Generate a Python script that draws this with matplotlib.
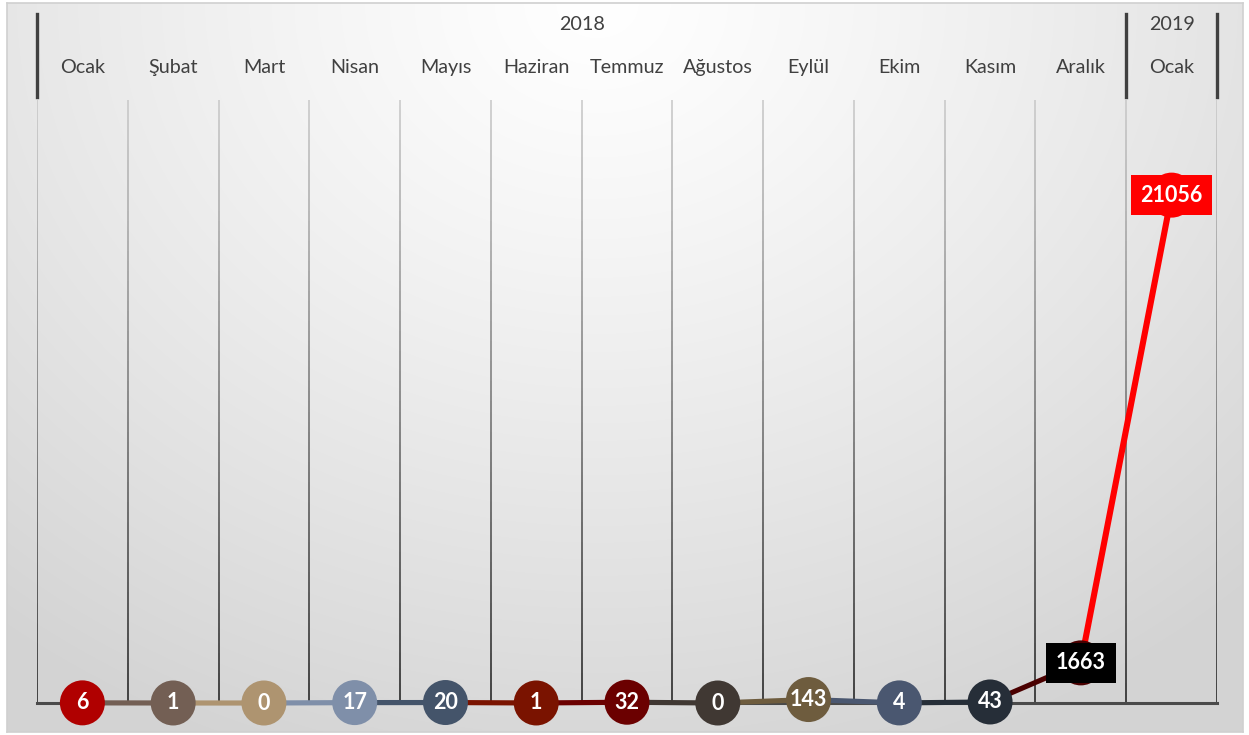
import numpy as np
import matplotlib.pyplot as plt
from matplotlib.collections import LineCollection

plt.rcParams['font.family'] = ['Lato', 'DejaVu Sans']

# data
months = ['Ocak', 'Şubat', 'Mart', 'Nisan', 'Mayıs', 'Haziran', 'Temmuz',
          'Ağustos', 'Eylül', 'Ekim', 'Kasım', 'Aralık', 'Ocak']
years = ['2018', '2019']
year_span = [12, 1]
values = [6, 1, 0, 17, 20, 1, 32, 0, 143, 4, 43, 1663, 21056]
colors = ['#B00000', '#735F54', '#AE9470', '#7F8FA9', '#44546A', '#7A1300',
          '#6B0000', '#403833', '#6E5C3E', '#4A5770', '#262E38', '#4A0000',
          '#FF0000']

W, H = 1249, 735
fig = plt.figure(figsize=(W / 100, H / 100), dpi=100)

# background with radial gradient
bg = fig.add_axes([7 / W, 3 / H, 1236 / W, 729 / H])
px, py = np.meshgrid(np.arange(1236), np.arange(729))
d = np.sqrt(((px - 590) / 950.0) ** 2 + (py / 800.0) ** 2)
g = 1 - 0.17 * np.clip(d, 0, 1) ** 1.2
bg.imshow(np.dstack([g, g, g]), aspect='auto', extent=[0, 1, 0, 1], origin='upper')
bg.set_xticks([])
bg.set_yticks([])
for s in bg.spines.values():
    s.set_color('#d0d0d0')
    s.set_linewidth(1.2)

ax = fig.add_axes([37 / W, 32 / H, 1180 / W, 603 / H])
ax.set_xlim(-0.5, 12.5)
ax.set_ylim(0, 25000)
ax.axis('off')

x = np.arange(len(values))

# vertical grid lines, light at top, dark at bottom
n = 60
ys = np.linspace(0, 25000, n + 1)
for xb in np.arange(-0.5, len(values)):
    segs = [[(xb, ys[k]), (xb, ys[k + 1])] for k in range(n)]
    t = np.linspace(0, 1, n)
    cols = [(0.1 + 0.68 * tt,) * 3 for tt in t]
    ax.add_collection(LineCollection(segs, colors=cols, linewidths=1.1, zorder=1))

ax.plot([-0.5, 12.5], [0, 0], color='#4a4a4a', lw=2.2, zorder=2, clip_on=False)

# top category axis
tr = ax.get_xaxis_transform()
for xb in [-0.5, 11.5, 12.5]:
    ax.plot([xb, xb], [1.005, 1.1426], color='#404040', lw=2.4, transform=tr, clip_on=False)
for i, m in enumerate(months):
    ax.text(i, 1.0547, m, transform=tr, ha='center', va='center',
            fontsize=14.2, color='#404040')
start = 0
for yname, span in zip(years, year_span):
    ax.text(start - 0.5 + span / 2, 1.1244, yname, transform=tr, ha='center',
            va='center', fontsize=14.2, color='#404040')
    start += span

# line segments coloured by destination point
for i in range(1, len(values)):
    lw = 4.4 if i == len(values) - 1 else 3.7
    ax.plot(x[i - 1:i + 1], values[i - 1:i + 1], color=colors[i], lw=lw,
            solid_capstyle='butt', zorder=3, clip_on=False)

ax.scatter(x, values, s=32.4 ** 2, c=colors, zorder=4, clip_on=False, linewidths=0)

for i, v in enumerate(values):
    kw = {}
    if i == 11:
        kw['bbox'] = dict(boxstyle='square,pad=0.45', fc='black', ec='none')
    elif i == 12:
        kw['bbox'] = dict(boxstyle='square,pad=0.45', fc='#FF0000', ec='none')
    ax.text(i, v, str(v), ha='center', va='center', color='white',
            fontsize=15.5, fontweight='bold', zorder=5, **kw)

plt.savefig('out.png', dpi=100)
